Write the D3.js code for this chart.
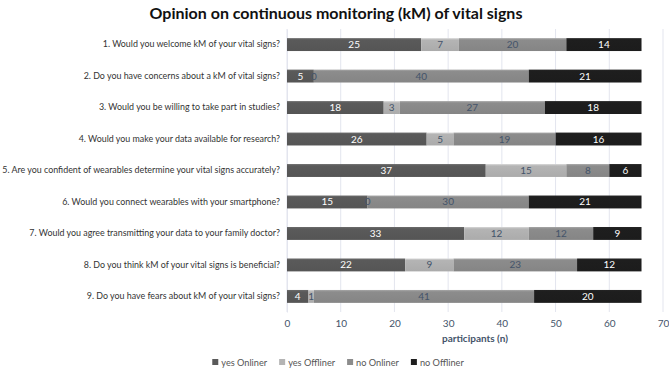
<!DOCTYPE html>
<html>
<head>
<meta charset="utf-8">
<script src="https://cdn.jsdelivr.net/npm/d3@7"></script>
<style>
  body { margin: 0; background: #fff; }
  svg { font-family: Lato, "Open Sans", sans-serif; }
</style>
</head>
<body>
<div id="chart"></div>
<script>
const questions = [
  "1. Would you welcome kM of your vital signs?",
  "2. Do you have concerns about a kM of vital signs?",
  "3. Would you be willing to take part in studies?",
  "4. Would you make your data available for research?",
  "5. Are you confident of wearables determine your vital signs accurately?",
  "6. Would you connect wearables with your smartphone?",
  "7. Would you agree transmitting your data to your family doctor?",
  "8. Do you think kM of your vital signs is beneficial?",
  "9. Do you have fears about kM of your vital signs?"
];
const seriesNames = ["yes Onliner", "yes Offliner", "no Onliner", "no Offliner"];
const yesOnliner  = [25, 5, 18, 26, 37, 15, 33, 22, 4];
const yesOffliner = [7, 0, 3, 5, 15, 0, 12, 9, 1];
const noOnliner   = [20, 40, 27, 19, 8, 30, 12, 23, 41];
const noOffliner  = [14, 21, 18, 16, 6, 21, 9, 12, 20];
const xTicks = [0, 10, 20, 30, 40, 50, 60, 70];

const colors = ["#5a5a5a", "#b4b4b4", "#8c8c8c", "#1e1e1e"];
const labelColors = ["#fff", "#44546a", "#44546a", "#fff"];

const W = 669, H = 371;
const margin = { top: 29, right: 6, bottom: 59, left: 287 };

const svg = d3.select("#chart").append("svg")
  .attr("width", W).attr("height", H);

// gradients to mimic the glossy bar edges
const defs = svg.append("defs");
colors.forEach((c, i) => {
  const g = defs.append("linearGradient")
    .attr("id", "grad" + i).attr("x1", 0).attr("y1", 0).attr("x2", 0).attr("y2", 1);
  g.append("stop").attr("offset", "0%").attr("stop-color", d3.color(c).brighter(0.5));
  g.append("stop").attr("offset", "15%").attr("stop-color", c);
  g.append("stop").attr("offset", "100%").attr("stop-color", d3.color(c).darker(0.15));
});

const rows = questions.map((q, i) => ({
  q, vals: [yesOnliner[i], yesOffliner[i], noOnliner[i], noOffliner[i]]
}));

const x = d3.scaleLinear().domain([0, 70]).range([margin.left, 663]);
const y = d3.scaleBand().domain(questions)
  .range([margin.top, H - margin.bottom]).paddingInner(0.59).paddingOuter(0.29);

// title
svg.append("text")
  .attr("x", 336).attr("y", 19)
  .attr("text-anchor", "middle")
  .attr("font-size", 16).attr("font-weight", "bold").attr("fill", "#111")
  .text("Opinion on continuous monitoring (kM) of vital signs");

// gridlines
svg.append("g").selectAll("line")
  .data(xTicks).enter().append("line")
  .attr("x1", d => x(d)).attr("x2", d => x(d))
  .attr("y1", margin.top).attr("y2", H - margin.bottom)
  .attr("stroke", "#e3e5ee").attr("stroke-width", 1);

// x axis
const xAxis = svg.append("g")
  .attr("transform", `translate(0,${H - margin.bottom})`)
  .call(d3.axisBottom(x).tickValues(xTicks).tickSize(0).tickPadding(8));
xAxis.select(".domain").remove();
xAxis.selectAll("text").attr("font-size", 10).attr("fill", "#44546a")
  .attr("font-family", "Lato, sans-serif");

svg.append("text")
  .attr("x", (x(0) + x(70)) / 2).attr("y", 342)
  .attr("text-anchor", "middle")
  .attr("font-size", 10).attr("font-weight", "bold").attr("fill", "#44546a")
  .text("participants (n)");

// y axis
const yAxis = svg.append("g")
  .attr("transform", `translate(${margin.left},0)`)
  .call(d3.axisLeft(y).tickSize(0).tickPadding(7));
yAxis.select(".domain").attr("stroke", "#e3e5ee");
yAxis.selectAll("text").attr("font-size", 8.9).attr("fill", "#333")
  .attr("font-family", "Lato, sans-serif");

// bars
const stackData = rows.map(r => {
  let acc = 0;
  return r.vals.map((v, k) => {
    const seg = { q: r.q, k, v, x0: acc, x1: acc + v };
    acc += v;
    return seg;
  });
});

const rowG = svg.append("g").selectAll("g")
  .data(stackData).enter().append("g");

rowG.selectAll("rect")
  .data(d => d).enter().append("rect")
  .attr("x", d => x(d.x0))
  .attr("y", d => y(d.q))
  .attr("width", d => x(d.x1) - x(d.x0))
  .attr("height", y.bandwidth())
  .attr("fill", d => `url(#grad${d.k})`);

rowG.selectAll("text")
  .data(d => d).enter().append("text")
  .attr("x", d => (x(d.x0) + x(d.x1)) / 2)
  .attr("y", d => y(d.q) + y.bandwidth() / 2)
  .attr("dy", "0.35em")
  .attr("text-anchor", "middle")
  .attr("font-size", 10)
  .attr("fill", d => labelColors[d.k])
  .text(d => d.v);

// legend, laid out from measured text widths and centred
const legend = svg.append("g").attr("transform", `translate(0,${H - 8})`);
const items = legend.selectAll("g")
  .data(seriesNames).enter().append("g");
items.append("rect")
  .attr("x", 0).attr("y", -4).attr("width", 6).attr("height", 6)
  .attr("fill", (d, i) => colors[i]);
items.append("text")
  .attr("x", 9).attr("y", 0).attr("dy", "0.3em")
  .attr("font-size", 9.2).attr("fill", "#555")
  .text(d => d);
let lx = 0;
const offs = [];
items.each(function () {
  offs.push(lx);
  lx += 9 + this.querySelector("text").getComputedTextLength() + 12;
});
const start = 338 - (lx - 12) / 2;
items.attr("transform", (d, i) => `translate(${start + offs[i]},0)`);
</script>
</body>
</html>
